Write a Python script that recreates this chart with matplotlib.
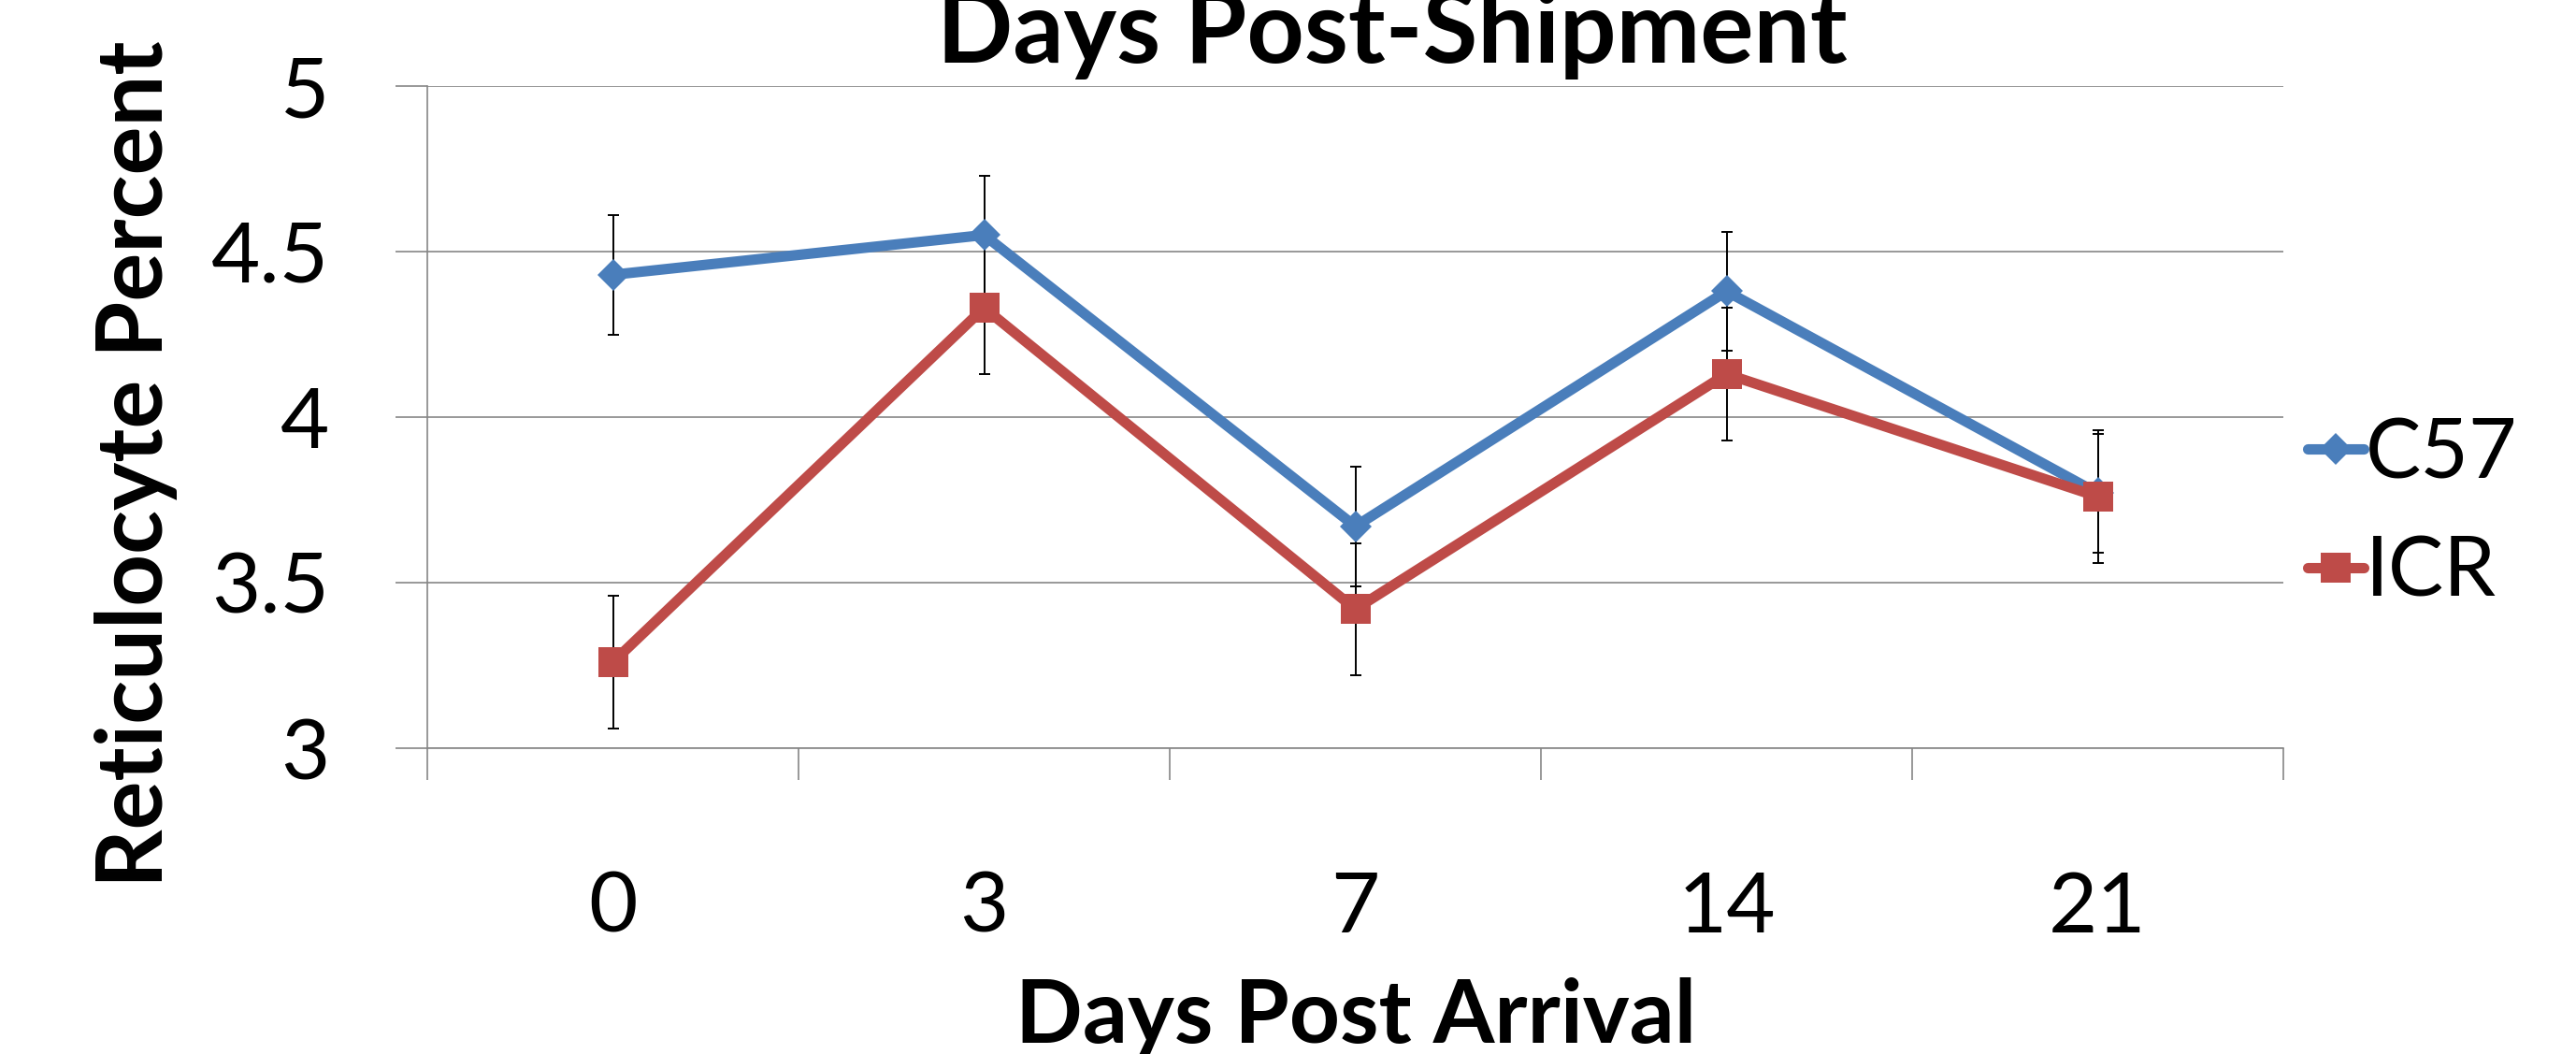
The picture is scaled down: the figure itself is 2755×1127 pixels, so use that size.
import numpy as np
import matplotlib
matplotlib.use('Agg')
import matplotlib.pyplot as plt
from matplotlib.ticker import FixedLocator

plt.rcParams['font.family'] = ['Lato', 'DejaVu Sans']

# data
days = ['0', '3', '7', '14', '21']
c57 = [4.43, 4.55, 3.67, 4.38, 3.77]
c57_err = [0.18, 0.18, 0.18, 0.18, 0.18]
icr = [3.26, 4.33, 3.42, 4.13, 3.76]
icr_err = [0.20, 0.20, 0.20, 0.20, 0.20]
yticks = [3, 3.5, 4, 4.5, 5]
ytick_labels = ['3', '3.5', '4', '4.5', '5']

BLUE = '#4A7EBB'
RED = '#BE4B48'
GRAY = '#868686'
W, H = 2755, 1127


def main():
    fig = plt.figure(figsize=(W / 100, H / 100), dpi=100)
    ax = fig.add_axes([457 / W, 1 - 800 / H, (2442 - 457) / W, (800 - 92) / H])
    x = np.arange(len(days))

    # error bars sit under the lines and markers
    ax.errorbar(x, c57, yerr=c57_err, fmt='none', ecolor='black',
                elinewidth=1.4, capsize=4.2, capthick=1.4, zorder=2)
    ax.errorbar(x, icr, yerr=icr_err, fmt='none', ecolor='black',
                elinewidth=1.4, capsize=4.2, capthick=1.4, zorder=2)

    l1, = ax.plot(x, c57, color=BLUE, lw=8, marker='D', ms=17,
                  mec=BLUE, mew=0, solid_capstyle='round',
                  solid_joinstyle='round', label='C57', zorder=3)
    l2, = ax.plot(x, icr, color=RED, lw=8, marker='s', ms=22.5,
                  mec=RED, mew=0, solid_capstyle='round',
                  solid_joinstyle='round', label='ICR', zorder=4)

    # axes settings
    ax.set_xlim(-0.5, len(days) - 0.5)
    ax.set_ylim(3, 5)
    ax.set_yticks(yticks)
    ax.set_yticklabels(ytick_labels)
    ax.set_xticks(x)
    ax.set_xticklabels(days)
    ax.xaxis.set_minor_locator(FixedLocator(np.arange(-0.5, len(days), 1.0)))
    ax.tick_params(axis='x', which='major', length=0, pad=94, labelsize=65)
    ax.tick_params(axis='x', which='minor', length=24.5, width=1.2,
                   color=GRAY, direction='out')
    ax.tick_params(axis='y', length=24.5, width=1.2, color=GRAY,
                   direction='out', pad=51, labelsize=65)
    ax.grid(axis='y', color=GRAY, lw=1.2, zorder=0)
    for s in ['top', 'right']:
        ax.spines[s].set_visible(False)
    for s in ['left', 'bottom']:
        ax.spines[s].set_color(GRAY)
        ax.spines[s].set_linewidth(1.2)

    # texts
    fig.text(1489 / W, 1 - 67 / H, 'Days Post-Shipment', fontsize=77,
             fontweight='bold', ha='center', va='baseline')
    fig.text(1450 / W, 1 - 1115 / H, 'Days Post Arrival', fontsize=68,
             fontweight='bold', ha='center', va='baseline')
    fig.text(174 / W, 1 - 496 / H, 'Reticulocyte Percent', fontsize=70,
             fontweight='bold', ha='center', va='baseline', rotation=90,
             rotation_mode='anchor')

    ax.legend(handles=[l1, l2], loc='center left',
              bbox_to_anchor=(2468 / W, 1 - 549.5 / H),
              bbox_transform=fig.transFigure, frameon=False, fontsize=64,
              handlelength=0.675, handletextpad=0.02, labelspacing=0.5,
              borderpad=0, borderaxespad=0)

    fig.savefig('out.png', dpi=100)


if __name__ == '__main__':
    main()
